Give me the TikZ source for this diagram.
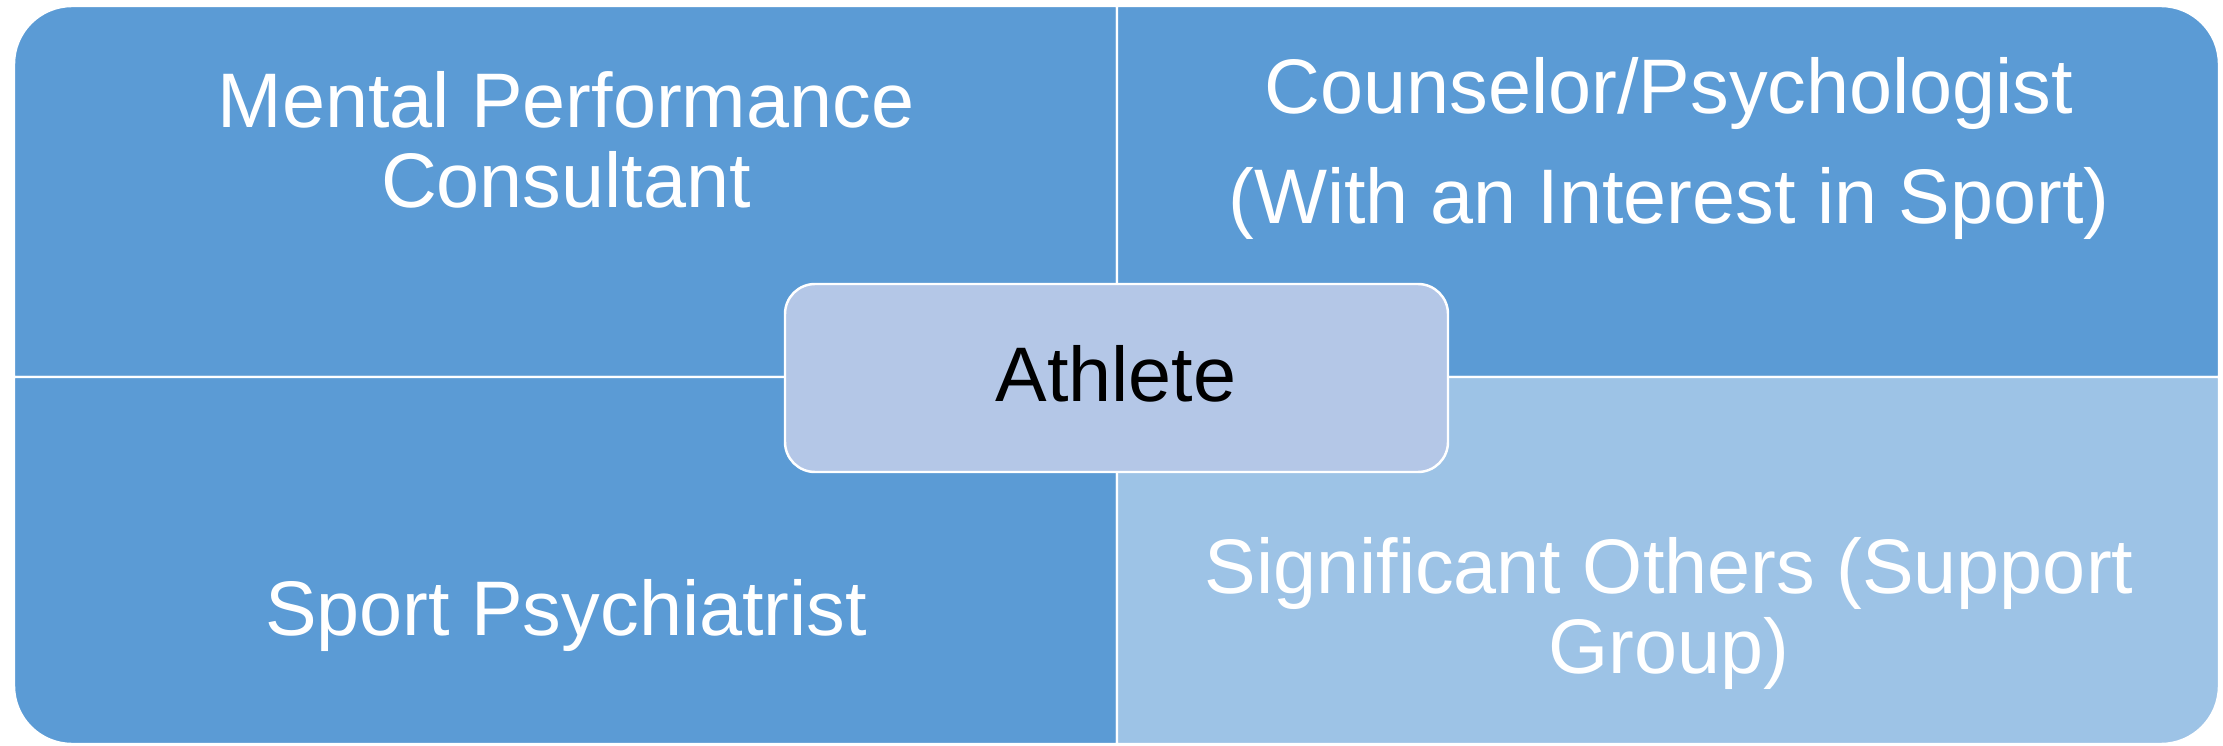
\documentclass[tikz,border=0pt]{standalone}
\usepackage{fontspec}
\setmainfont{Liberation Sans}
\definecolor{quadDark}{HTML}{5B9BD5}
\definecolor{quadLight}{HTML}{9DC3E6}
\definecolor{hubFill}{HTML}{B4C7E7}
\begin{document}
\begin{tikzpicture}[x=0.01cm,y=0.01cm,
  quad/.style={draw=white,line width=0.7pt},
  label/.style={inner sep=0pt,text=white,align=center,anchor=base,
    font=\fontsize{22}{22.76}\selectfont},
  hub/.style={draw=white,line width=0.7pt,fill=hubFill,rounded corners=0.3cm}]
\useasboundingbox (0,0) rectangle (2223,745);
% four quadrants, each rounded only at its outer corner
\path[quad,fill=quadDark] (1117,368) -- (14,368) -- (14,681)
  arc[start angle=180,end angle=90,radius=58] -- (1117,739) -- cycle;
\path[quad,fill=quadDark] (1117,368) -- (1117,739) -- (2161,739)
  arc[start angle=90,end angle=0,radius=58] -- (2219,368) -- cycle;
\path[quad,fill=quadDark] (1117,368) -- (14,368) -- (14,59)
  arc[start angle=180,end angle=270,radius=58] -- (1117,1) -- cycle;
\path[quad,fill=quadLight] (1117,368) -- (2219,368) -- (2219,59)
  arc[start angle=0,end angle=-90,radius=58] -- (1117,1) -- cycle;
% quadrant texts (anchored at the baseline of their last line)
\node[label] (mpc) at (566,537) {Mental Performance\\Consultant};
\node[label] (cp) at (1669,521) {Counselor/Psychologist\\[8.8pt](With an Interest in Sport)};
\node[label] (sp) at (566,110) {Sport Psychiatrist};
\node[label] (so) at (1669,71) {Significant Others (Support\\Group)};
% central hub
\draw[hub] (785,273) rectangle (1448,461);
\node[label,text=black] (ath) at (1116,343) {Athlete};
\end{tikzpicture}
\end{document}
